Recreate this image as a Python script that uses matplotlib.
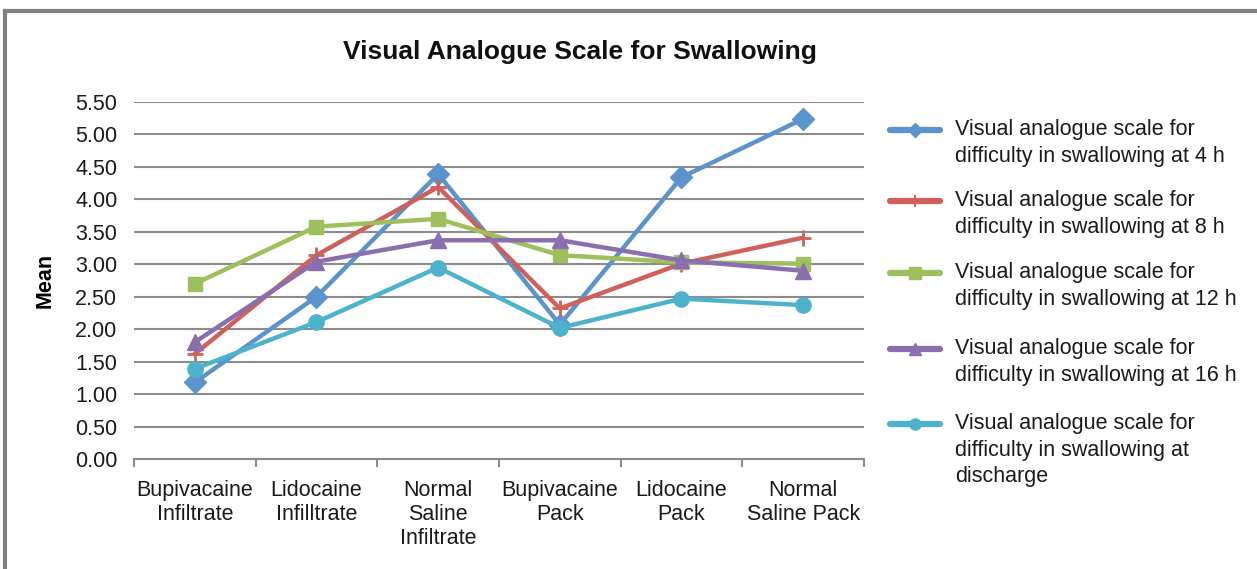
import matplotlib
matplotlib.use("Agg")
import matplotlib.pyplot as plt
from matplotlib.lines import Line2D
import numpy as np

plt.rcParams['font.family'] = ['Liberation Sans', 'DejaVu Sans']

categories = ["Bupivacaine\nInfiltrate", "Lidocaine\nInfilltrate", "Normal\nSaline\nInfiltrate",
              "Bupivacaine\nPack", "Lidocaine\nPack", "Normal\nSaline Pack"]
vas_4h = [1.18, 2.50, 4.39, 2.07, 4.34, 5.24]
vas_8h = [1.62, 3.14, 4.19, 2.32, 3.01, 3.41]
vas_12h = [2.70, 3.58, 3.70, 3.14, 3.03, 3.01]
vas_16h = [1.80, 3.04, 3.37, 3.37, 3.06, 2.90]
vas_discharge = [1.39, 2.11, 2.95, 2.02, 2.47, 2.37]
yticks = [0.0, 0.5, 1.0, 1.5, 2.0, 2.5, 3.0, 3.5, 4.0, 4.5, 5.0, 5.5]

series = [
    (vas_4h, "Visual analogue scale for\ndifficulty in swallowing at 4 h", "#5B93CC", "D", 11, 7),
    (vas_8h, "Visual analogue scale for\ndifficulty in swallowing at 8 h", "#D0605A", "+", 12, 9),
    (vas_12h, "Visual analogue scale for\ndifficulty in swallowing at 12 h", "#9DBF5C", "s", 10.5, 8),
    (vas_16h, "Visual analogue scale for\ndifficulty in swallowing at 16 h", "#8A6EAD", "^", 11, 8),
    (vas_discharge, "Visual analogue scale for\ndifficulty in swallowing at\ndischarge", "#4DB3CC", "o", 11, 8),
]

W, H = 1257, 569
fig = plt.figure(figsize=(W / 100, H / 100), dpi=100)
ax = fig.add_axes([134 / W, 1 - 459 / H, (864 - 134) / W, (459 - 102) / H])

x = np.arange(len(categories))
for vals, label, color, marker, ms, lms in series:
    ax.plot(x, vals, color=color, lw=3.2, marker=marker, markersize=ms,
            markeredgewidth=2 if marker == "+" else 1, markeredgecolor=color,
            markerfacecolor=color, solid_joinstyle="round", zorder=3)

ax.set_xlim(-0.5, len(categories) - 0.5)
ax.set_ylim(0, 5.5)
ax.set_yticks(yticks)
ax.set_yticklabels([f"{v:.2f}" for v in yticks], fontsize=15.5, color="#1a1a1a")
ax.yaxis.grid(True, color="#8c8c8c", lw=1.5)
ax.set_axisbelow(True)
ax.tick_params(axis="y", length=0, pad=12)

ax.set_xticks(x)
ax.set_xticklabels(categories, fontsize=15.5, color="#1a1a1a", linespacing=1.2)
ax.set_xticks(np.arange(-0.5, len(categories), 1.0), minor=True)
ax.tick_params(axis="x", which="major", length=0, pad=15)
ax.tick_params(axis="x", which="minor", length=6, width=1.5, color="#8c8c8c", direction="out")
for s in ["left", "right", "top"]:
    ax.spines[s].set_visible(False)
ax.spines["bottom"].set_color("#8c8c8c")
ax.spines["bottom"].set_linewidth(1.5)

ax.set_ylabel("Mean", fontsize=15.5, fontweight="bold", labelpad=14)
fig.text(580 / W, 1 - 52 / H, "Visual Analogue Scale for Swallowing", ha="center", va="center",
         fontsize=19, fontweight="bold", color="#111111")

# legend (manual layout to match reference)
entry_y = [130, 201, 273, 349, 424]
for (vals, label, color, marker, ms, lms), ey in zip(series, entry_y):
    yy = 1 - ey / H
    fig.add_artist(Line2D([890 / W, 940 / W], [yy, yy], color=color, lw=4.5,
                          solid_capstyle="round", transform=fig.transFigure))
    fig.add_artist(Line2D([915 / W], [yy], color=color, marker=marker, markersize=lms,
                          markeredgewidth=1.5 if marker == "+" else 1,
                          markeredgecolor=color, markerfacecolor=color, transform=fig.transFigure))
    fig.text(955 / W, yy + 11 / H, label, ha="left", va="top", fontsize=15.5,
             color="#1a1a1a", linespacing=1.35)

# outer border (top and left visible)
fig.add_artist(Line2D([5 / W, 5 / W], [0, 1 - 11 / H], color="#808080", lw=3, transform=fig.transFigure))
fig.add_artist(Line2D([5 / W, 1], [1 - 11 / H, 1 - 11 / H], color="#808080", lw=3, transform=fig.transFigure))

fig.savefig("out.png", dpi=100)
